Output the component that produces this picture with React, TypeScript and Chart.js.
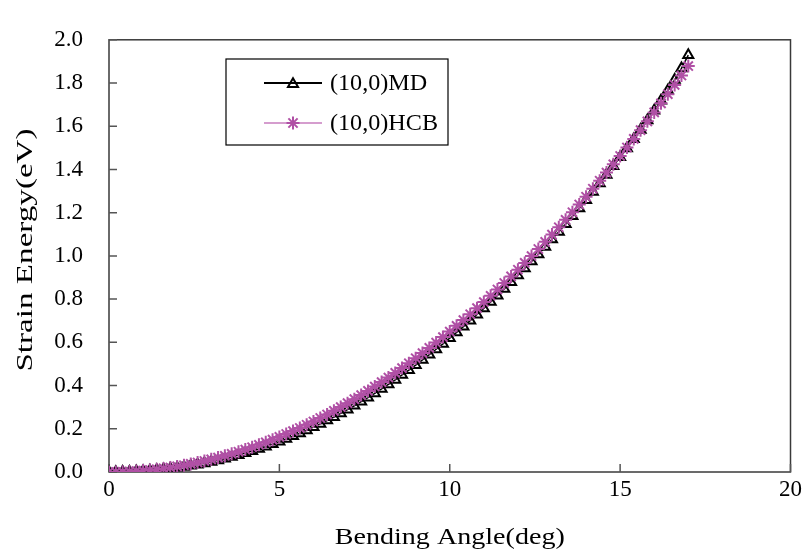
import React, { useEffect, useRef } from "react";
import { Chart, registerables } from "chart.js";

Chart.register(...registerables);

const angles = [
  0, 0.2, 0.4, 0.6, 0.8, 1.0, 1.2, 1.4, 1.6, 1.8, 2.0, 2.2, 2.4, 2.6, 2.8, 3.0, 3.2, 3.4, 3.6, 3.8,
  4.0, 4.2, 4.4, 4.6, 4.8, 5.0, 5.2, 5.4, 5.6, 5.8, 6.0, 6.2, 6.4, 6.6, 6.8, 7.0, 7.2, 7.4, 7.6, 7.8,
  8.0, 8.2, 8.4, 8.6, 8.8, 9.0, 9.2, 9.4, 9.6, 9.8, 10.0, 10.2, 10.4, 10.6, 10.8, 11.0, 11.2, 11.4, 11.6, 11.8,
  12.0, 12.2, 12.4, 12.6, 12.8, 13.0, 13.2, 13.4, 13.6, 13.8, 14.0, 14.2, 14.4, 14.6, 14.8, 15.0, 15.2, 15.4, 15.6, 15.8,
  16.0, 16.2, 16.4, 16.6, 16.8, 17.0,
];

const mdEnergy = [
  0, 0.0002, 0.0006, 0.0015, 0.0028, 0.0045, 0.0067, 0.0092, 0.0123, 0.0158, 0.0198, 0.0243, 0.0292, 0.0346, 0.0406,
  0.0472, 0.0541, 0.0615, 0.0696, 0.0781, 0.0873, 0.0968, 0.1068, 0.1176, 0.1288, 0.1406, 0.1529, 0.1656, 0.1791, 0.1931,
  0.2078, 0.2229, 0.2385, 0.2545, 0.2714, 0.2889, 0.3067, 0.3253, 0.3442, 0.3643, 0.3844, 0.4052, 0.4265, 0.449, 0.4717,
  0.4949, 0.5188, 0.5427, 0.5679, 0.5931, 0.6195, 0.6459, 0.6728, 0.7004, 0.7286, 0.7574, 0.7869, 0.8168, 0.8475, 0.8784,
  0.9098, 0.9419, 0.9744, 1.0077, 1.0416, 1.0765, 1.1117, 1.1473, 1.1836, 1.2206, 1.2587, 1.2969, 1.3357, 1.3751, 1.4153,
  1.4567, 1.498, 1.54, 1.5834, 1.6276, 1.6723, 1.7187, 1.7657, 1.8144, 1.8676, 1.9292,
];

const hcbEnergy = [
  0, 0.0003, 0.001, 0.0023, 0.0042, 0.0065, 0.0094, 0.0127, 0.0166, 0.0211, 0.026, 0.0315, 0.0374, 0.0439, 0.051,
  0.0585, 0.0666, 0.0751, 0.0842, 0.0939, 0.104, 0.1147, 0.1258, 0.1375, 0.1498, 0.1625, 0.1758, 0.1895, 0.2038, 0.2187,
  0.234, 0.2499, 0.2662, 0.2831, 0.3006, 0.3185, 0.337, 0.3559, 0.3754, 0.3955, 0.416, 0.4371, 0.4586, 0.4807, 0.5034,
  0.5265, 0.5502, 0.5743, 0.599, 0.6243, 0.65, 0.6763, 0.703, 0.7303, 0.7582, 0.7865, 0.8154, 0.8447, 0.8746, 0.9051,
  0.936, 0.9675, 0.9994, 1.0319, 1.065, 1.0985, 1.1326, 1.1671, 1.2022, 1.2379, 1.274, 1.3107, 1.3478, 1.3855, 1.4238,
  1.4625, 1.5018, 1.5415, 1.5818, 1.6227, 1.664, 1.7059, 1.7482, 1.7911, 1.8346, 1.8785,
];

const seriesLabels = ["(10,0)MD", "(10,0)HCB"];
const xTicks = [0, 5, 10, 15, 20];
const yTicks = [0, 0.2, 0.4, 0.6, 0.8, 1.0, 1.2, 1.4, 1.6, 1.8, 2.0];
const xTitle = "Bending Angle(deg)";
const yTitle = "Strain Energy(eV)";

const FONT = '"Liberation Serif", "Times New Roman", serif';
const MD_COLOR = "#000000";
const HCB_COLOR = "#B050A5";
const HCB_LINE = "#C77DBE";

function drawTriangle(ctx: CanvasRenderingContext2D, x: number, y: number, r: number) {
  ctx.beginPath();
  for (let i = 0; i < 3; i++) {
    const a = (i * 2 * Math.PI) / 3;
    const px = x + Math.sin(a) * r;
    const py = y - Math.cos(a) * r;
    if (i === 0) ctx.moveTo(px, py);
    else ctx.lineTo(px, py);
  }
  ctx.closePath();
  ctx.stroke();
}

function drawStar(ctx: CanvasRenderingContext2D, x: number, y: number, r: number) {
  ctx.beginPath();
  for (let i = 0; i < 4; i++) {
    const a = (i * Math.PI) / 4;
    ctx.moveTo(x - Math.cos(a) * r, y - Math.sin(a) * r);
    ctx.lineTo(x + Math.cos(a) * r, y + Math.sin(a) * r);
  }
  ctx.stroke();
}

function stretchedText(
  ctx: CanvasRenderingContext2D,
  text: string,
  x: number,
  y: number,
  sx: number,
  align: CanvasTextAlign,
  rotate = 0
) {
  ctx.save();
  ctx.translate(x, y);
  if (rotate) ctx.rotate(rotate);
  ctx.scale(sx, 1);
  ctx.textAlign = align;
  ctx.textBaseline = "middle";
  ctx.fillText(text, 0, 0);
  ctx.restore();
}

const framePlugin = {
  id: "framePlugin",
  beforeDatasetsDraw(chart: any) {
    const { ctx, chartArea } = chart;
    const xs = chart.scales.x;
    const ys = chart.scales.y;
    ctx.save();
    ctx.strokeStyle = "#3a3a3a";
    ctx.lineWidth = 1.5;
    ctx.strokeRect(chartArea.left, chartArea.top, chartArea.right - chartArea.left, chartArea.bottom - chartArea.top);
    ctx.strokeStyle = "#555555";
    ctx.lineWidth = 1.5;
    ctx.beginPath();
    for (const v of yTicks) {
      const py = ys.getPixelForValue(v);
      ctx.moveTo(chartArea.left, py);
      ctx.lineTo(chartArea.left + 8, py);
    }
    for (const v of xTicks) {
      const px = xs.getPixelForValue(v);
      ctx.moveTo(px, chartArea.bottom);
      ctx.lineTo(px, chartArea.bottom - 8);
    }
    ctx.stroke();
    ctx.restore();
  },
  afterDraw(chart: any) {
    const { ctx, chartArea } = chart;
    ctx.save();
    ctx.fillStyle = "#000";
    ctx.font = `24px ${FONT}`;
    const cx = (chartArea.left + chartArea.right) / 2;
    stretchedText(ctx, xTitle, cx, 538, 1.17, "center");
    stretchedText(ctx, yTitle, 26, 250, 1.38, "center", -Math.PI / 2);

    // legend
    const bx = 226, by = 59, bw = 222, bh = 86;
    ctx.strokeStyle = "#000";
    ctx.lineWidth = 1.2;
    ctx.strokeRect(bx, by, bw, bh);
    const ds = chart.data.datasets;
    const rows = [83, 123];
    ds.forEach((d: any, i: number) => {
      const y = rows[i];
      ctx.strokeStyle = i === 0 ? MD_COLOR : HCB_LINE;
      ctx.lineWidth = i === 0 ? 2 : 1.5;
      ctx.beginPath();
      ctx.moveTo(264, y);
      ctx.lineTo(322, y);
      ctx.stroke();
      ctx.strokeStyle = d.pointBorderColor;
      ctx.lineWidth = 2;
      if (i === 0) drawTriangle(ctx, 293, y + 1, 5.8);
      else drawStar(ctx, 293, y, 6.5);
      ctx.fillStyle = "#000";
      ctx.font = `23px ${FONT}`;
      stretchedText(ctx, d.label, 330, y + 1, 1.05, "left");
    });
    ctx.restore();
  },
};

export default function App() {
  const canvasRef = useRef<HTMLCanvasElement | null>(null);

  useEffect(() => {
    const canvas = canvasRef.current;
    if (!canvas) return;
    const chart = new Chart(canvas, {
      type: "line",
      data: {
        datasets: [
          {
            label: seriesLabels[0],
            data: angles.map((a, i) => ({ x: a, y: mdEnergy[i] })),
            borderColor: MD_COLOR,
            borderWidth: 1.5,
            pointStyle: "triangle",
            pointRadius: 5.8,
            pointBorderWidth: 2,
            pointBorderColor: MD_COLOR,
            pointBackgroundColor: "rgba(0,0,0,0)",
            tension: 0,
            order: 1,
          },
          {
            label: seriesLabels[1],
            data: angles.map((a, i) => ({ x: a, y: hcbEnergy[i] })),
            borderColor: HCB_LINE,
            borderWidth: 1,
            pointStyle: "star",
            pointRadius: 6.5,
            pointBorderWidth: 2,
            pointBorderColor: HCB_COLOR,
            pointBackgroundColor: HCB_COLOR,
            tension: 0,
            order: 0,
          },
        ],
      },
      options: {
        animation: false,
        responsive: false,
        maintainAspectRatio: false,
        layout: { padding: { left: 0, right: 14, top: 20, bottom: 0 } },
        plugins: {
          legend: { display: false },
          tooltip: { enabled: false },
          title: { display: false },
        },
        scales: {
          x: {
            type: "linear",
            min: 0,
            max: 20,
            afterBuildTicks: (scale: any) => {
              scale.ticks = xTicks.map((v) => ({ value: v }));
            },
            afterFit: (scale: any) => {
              scale.height = 81;
            },
            ticks: {
              color: "#000",
              font: { family: FONT, size: 23 },
              padding: 4,
              maxRotation: 0,
              autoSkip: false,
            },
            grid: { display: false, drawTicks: false },
            border: { display: false },
          },
          y: {
            type: "linear",
            min: 0,
            max: 2,
            afterBuildTicks: (scale: any) => {
              scale.ticks = yTicks.map((v) => ({ value: v }));
            },
            afterFit: (scale: any) => {
              scale.width = 109;
            },
            ticks: {
              color: "#000",
              font: { family: FONT, size: 23 },
              padding: 26,
              autoSkip: false,
              callback: (v: any) => Number(v).toFixed(1),
            },
            grid: { display: false, drawTicks: false },
            border: { display: false },
          },
        },
      },
      plugins: [framePlugin],
    });
    return () => chart.destroy();
  }, []);

  return (
    <div style={{ position: "fixed", left: 0, top: 0, width: 806, height: 553, background: "#fff" }}>
      <canvas ref={canvasRef} width={806} height={553} style={{ width: 806, height: 553, display: "block" }} />
    </div>
  );
}
